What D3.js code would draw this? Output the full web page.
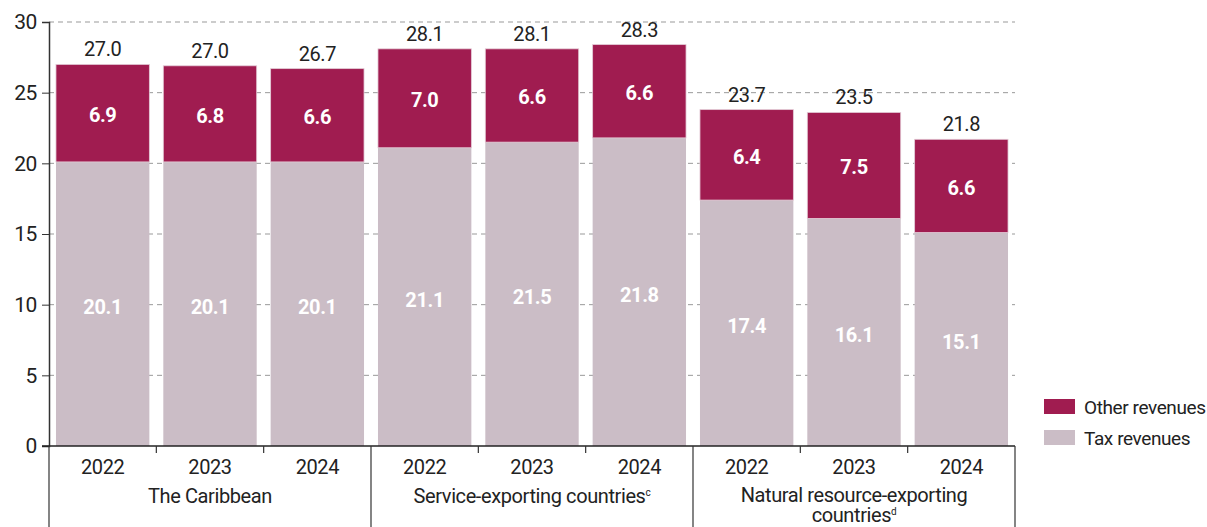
<!DOCTYPE html>
<html>
<head>
<meta charset="utf-8">
<script src="https://cdn.jsdelivr.net/npm/d3@7"></script>
<style>
  body { margin: 0; background: #fff; }
  svg text { font-family: "Roboto", "Liberation Sans", sans-serif; letter-spacing: -0.4px; }
</style>
</head>
<body>
<svg width="1207" height="527"></svg>
<script>
const groups = ["The Caribbean", "Service-exporting countries", "Natural resource-exporting countries"];
const years = ["2022", "2023", "2024"];
const taxRevenues = [20.1, 20.1, 20.1, 21.1, 21.5, 21.8, 17.4, 16.1, 15.1];
const otherRevenues = [6.9, 6.8, 6.6, 7.0, 6.6, 6.6, 6.4, 7.5, 6.6];
const totals = [27.0, 27.0, 26.7, 28.1, 28.1, 28.3, 23.7, 23.5, 21.8];
const yTicks = [0, 5, 10, 15, 20, 25, 30];

const colors = { other: "#a01c50", tax: "#cbbdc6" };

const svg = d3.select("svg");
const plotLeft = 49, plotRight = 1015, plotTop = 22, plotBottom = 446;

const keys = d3.range(9);
const x = d3.scaleBand().domain(keys).range([plotLeft, plotRight]).paddingInner(0.13).paddingOuter(0.065);
const y = d3.scaleLinear().domain([0, 30]).range([plotBottom, plotTop]);

// gridlines
svg.append("g").selectAll("line")
    .data(yTicks.filter(d => d > 0))
    .enter().append("line")
    .attr("x1", plotLeft).attr("x2", plotRight)
    .attr("y1", d => y(d)).attr("y2", d => y(d))
    .attr("stroke", "#999").attr("stroke-dasharray", "5,4");

// y axis
const yAxis = svg.append("g")
    .attr("transform", `translate(${plotLeft},0)`)
    .call(d3.axisLeft(y).tickValues(yTicks).tickSize(7).tickPadding(5));
yAxis.select(".domain").attr("stroke", "#333").attr("stroke-width", 1.5);
yAxis.selectAll(".tick line").attr("stroke", "#333");
yAxis.selectAll("text").attr("font-size", 21).attr("fill", "#222")
    .style("font-family", '"Roboto", sans-serif');

// bars
const bars = svg.append("g");
bars.selectAll(".tax").data(keys).enter().append("rect")
    .attr("x", i => x(i)).attr("width", x.bandwidth())
    .attr("y", i => y(taxRevenues[i]))
    .attr("height", i => y(0) - y(taxRevenues[i]))
    .attr("fill", colors.tax);
bars.selectAll(".other").data(keys).enter().append("rect")
    .attr("x", i => x(i)).attr("width", x.bandwidth())
    .attr("y", i => y(taxRevenues[i] + otherRevenues[i]))
    .attr("height", i => y(taxRevenues[i]) - y(taxRevenues[i] + otherRevenues[i]))
    .attr("fill", colors.other)
    .attr("stroke", "#e3cbd6").attr("stroke-width", 0.8);

// inner labels
const lbl = svg.append("g").attr("font-size", 20).attr("font-weight", "bold")
    .attr("fill", "#fff").attr("text-anchor", "middle");
lbl.selectAll(".tl").data(keys).enter().append("text")
    .attr("x", i => x(i) + x.bandwidth() / 2)
    .attr("y", i => y(taxRevenues[i] / 2) + 10)
    .text(i => taxRevenues[i].toFixed(1));
lbl.selectAll(".ol").data(keys).enter().append("text")
    .attr("x", i => x(i) + x.bandwidth() / 2)
    .attr("y", i => y(taxRevenues[i] + otherRevenues[i] / 2) + 9)
    .text(i => otherRevenues[i].toFixed(1));

// totals
svg.append("g").attr("font-size", 20).attr("fill", "#222").attr("text-anchor", "middle")
    .selectAll("text").data(keys).enter().append("text")
    .attr("x", i => x(i) + x.bandwidth() / 2)
    .attr("y", i => y(taxRevenues[i] + otherRevenues[i]) - 8)
    .text(i => totals[i].toFixed(1));

// x axis baseline
const cellLeft = i => plotLeft + (plotRight - plotLeft) * i / 9;
svg.append("line").attr("x1", plotLeft - 7).attr("x2", plotRight)
    .attr("y1", plotBottom).attr("y2", plotBottom).attr("stroke", "#222").attr("stroke-width", 1.5);

// group separators and year ticks
for (let i = 0; i <= 9; i++) {
    const xx = cellLeft(i);
    if (i % 3 === 0) {
        svg.append("line").attr("x1", xx).attr("x2", xx).attr("y1", plotBottom).attr("y2", 527)
            .attr("stroke", "#333").attr("stroke-width", 1.2);
    } else {
        svg.append("line").attr("x1", xx).attr("x2", xx).attr("y1", plotBottom).attr("y2", plotBottom + 7)
            .attr("stroke", "#333").attr("stroke-width", 1.2);
    }
}

// year labels
svg.append("g").attr("font-size", 20).attr("fill", "#222").attr("text-anchor", "middle")
    .selectAll("text").data(keys).enter().append("text")
    .attr("x", i => (cellLeft(i) + cellLeft(i + 1)) / 2)
    .attr("y", 474)
    .text(i => years[i % 3]);

// group labels
const sups = ["", "c", "d"];
groups.forEach((g, gi) => {
    const cx = (cellLeft(gi * 3) + cellLeft(gi * 3 + 3)) / 2;
    const t = svg.append("text").attr("font-size", 20).attr("fill", "#222")
        .attr("text-anchor", "middle");
    if (gi === 2) {
        t.append("tspan").attr("x", cx).attr("y", 502).text("Natural resource-exporting");
        t.append("tspan").attr("x", cx).attr("y", 522).text("countries");
    } else {
        t.attr("x", cx).attr("y", 503).append("tspan").text(g);
    }
    if (sups[gi]) {
        t.append("tspan").attr("font-size", 10).attr("dy", -7).text(sups[gi]);
    }
});

// legend
const legend = [["Other revenues", colors.other], ["Tax revenues", colors.tax]];
const lg = svg.append("g").attr("transform", "translate(1044,399)");
legend.forEach((d, i) => {
    lg.append("rect").attr("x", 0).attr("y", i * 31).attr("width", 31).attr("height", 15).attr("fill", d[1]);
    lg.append("text").attr("x", 40).attr("y", i * 31 + 15).attr("font-size", 19).attr("fill", "#222").text(d[0]);
});
</script>
</body>
</html>
